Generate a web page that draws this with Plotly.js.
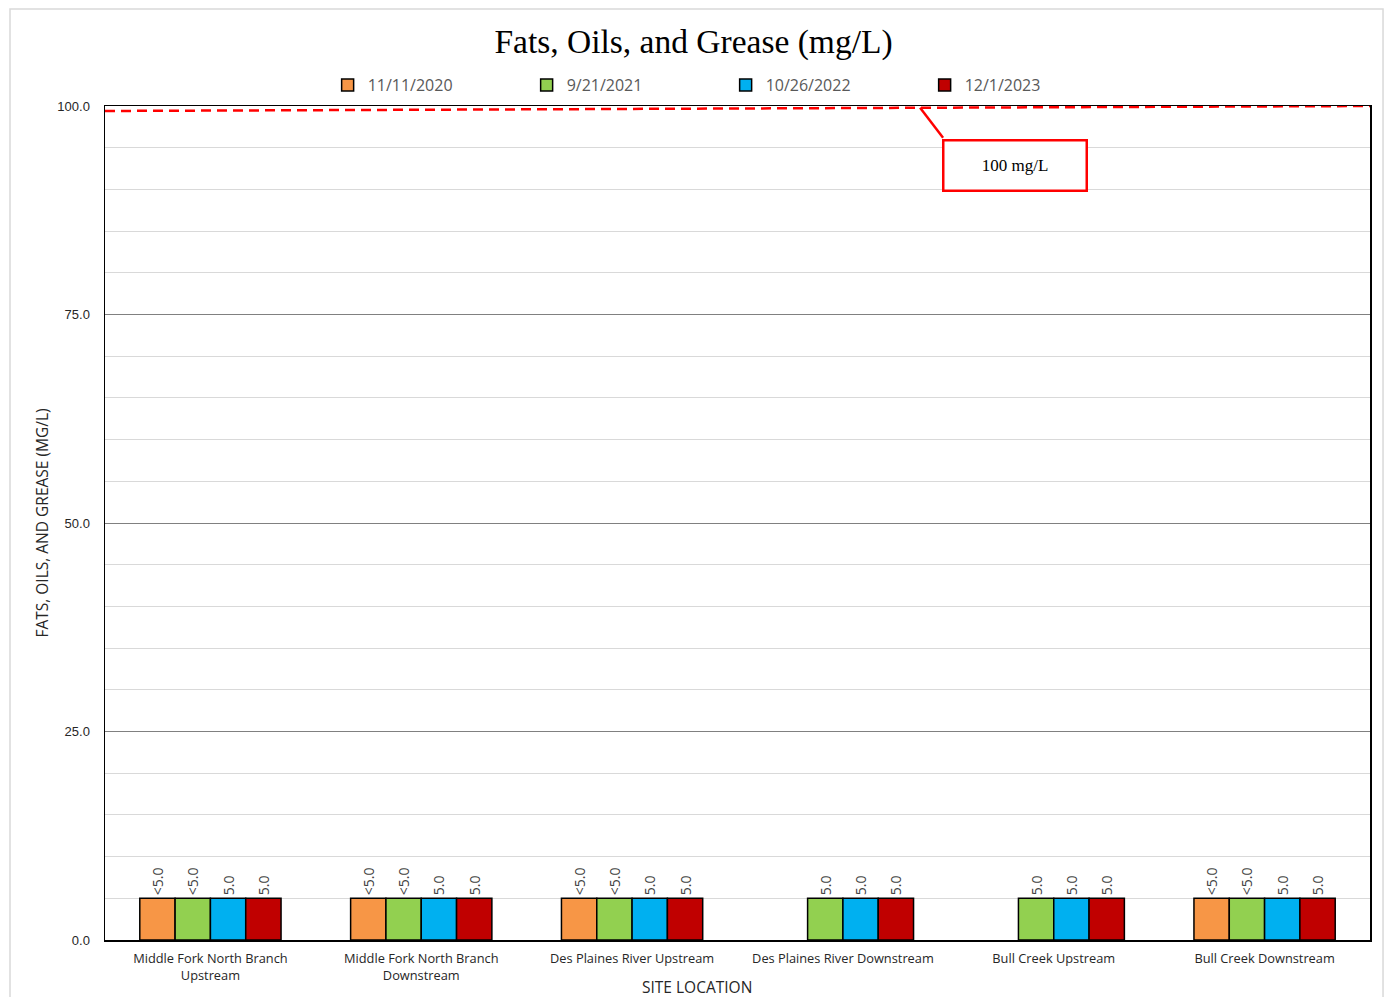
<!DOCTYPE html>
<html>
<head>
<meta charset="utf-8">
<script src="https://cdn.plot.ly/plotly-3.0.1.min.js"></script>
<style>html,body{margin:0;padding:0;background:#fff;}#chart{width:1387px;height:997px;}</style>
</head>
<body>
<div id="chart"></div>
<script>
var sites = ["Middle Fork North Branch<br>Upstream", "Middle Fork North Branch<br>Downstream", "Des Plaines River Upstream", "Des Plaines River Downstream", "Bull Creek Upstream", "Bull Creek Downstream"];
var seriesNames = ["11/11/2020", "9/21/2021", "10/26/2022", "12/1/2023"];
var v2020 = [5.0, 5.0, 5.0, null, null, 5.0];
var v2021 = [5.0, 5.0, 5.0, 5.0, 5.0, 5.0];
var v2022 = [5.0, 5.0, 5.0, 5.0, 5.0, 5.0];
var v2023 = [5.0, 5.0, 5.0, 5.0, 5.0, 5.0];
var l2020 = ["<5.0", "<5.0", "<5.0", "", "", "<5.0"];
var l2021 = ["<5.0", "<5.0", "<5.0", "5.0", "5.0", "<5.0"];
var l2022 = ["5.0", "5.0", "5.0", "5.0", "5.0", "5.0"];
var l2023 = ["5.0", "5.0", "5.0", "5.0", "5.0", "5.0"];
var limitY = [99.4, 100];
var limitLabel = "100 mg/L";
var yTicks = [0, 25, 50, 75, 100];
var yTickText = ["0.0", "25.0", "50.0", "75.0", "100.0"];

var colors = ["#F79646", "#92D050", "#00B0F0", "#C00000"];
var vals = [v2020, v2021, v2022, v2023];
var labs = [l2020, l2021, l2022, l2023];

var traces = vals.map(function (v, i) {
  return {
    type: "bar",
    name: seriesNames[i],
    x: sites,
    y: v,
    text: labs[i],
    textposition: "outside",
    textangle: -90,
    cliponaxis: false,
    textfont: {family: "Open Sans, Liberation Sans, sans-serif", size: 14, color: "#404040"},
    marker: {color: colors[i], line: {color: "#000000", width: 1.5}},
    hoverinfo: "skip"
  };
});

var layout = {
  width: 1387,
  height: 997,
  margin: {l: 105, r: 17, t: 106, b: 57},
  paper_bgcolor: "#ffffff",
  plot_bgcolor: "#ffffff",
  barmode: "group",
  bargap: 0.33,
  bargroupgap: 0,
  showlegend: true,
  title: {
    text: "Fats, Oils, and Grease (mg/L)",
    font: {family: "Liberation Serif, Times New Roman, serif", size: 33.5, color: "#000000"},
    x: 0.5, xanchor: "center", y: 0.959, yanchor: "middle"
  },
  legend: {
    orientation: "h",
    x: 0.176, xanchor: "left",
    y: 1.025, yanchor: "middle",
    entrywidth: 154, entrywidthmode: "pixels",
    itemwidth: 30,
    font: {family: "Open Sans, Liberation Sans, sans-serif", size: 16, color: "#595959"},
    bgcolor: "rgba(0,0,0,0)"
  },
  xaxis: {
    type: "category",
    showline: true, linecolor: "#000000", linewidth: 1.5, mirror: true,
    ticks: "", showgrid: false,
    ticklabelstandoff: 6,
    tickfont: {family: "Open Sans, Liberation Sans, sans-serif", size: 12.8, color: "#262626"},
    range: [-0.5, 5.5]
  },
  yaxis: {
    range: [0, 100],
    tickvals: yTicks, ticktext: yTickText,
    showline: true, linecolor: "#000000", linewidth: 1.5, mirror: true,
    showgrid: true, gridcolor: "#808080", gridwidth: 1,
    minor: {dtick: 5, showgrid: true, gridcolor: "#d9d9d9", gridwidth: 1, ticks: ""},
    zeroline: false,
    ticks: "", ticklabelstandoff: 11,
    tickfont: {family: "Liberation Sans, Arial, sans-serif", size: 13, color: "#262626"},
    title: {text: "FATS, OILS, AND GREASE (MG/L)", standoff: 5, font: {family: "Open Sans, Liberation Sans, sans-serif", size: 15.5, color: "#262626"}}
  },
  shapes: [
    {type: "line", xref: "paper", yref: "y", x0: 0, x1: 1, y0: limitY[0], y1: limitY[1],
     line: {color: "#FF0000", width: 2.5, dash: "10px,6px"}},
    {type: "line", xref: "x", yref: "y", x0: 3.366, y0: 99.8, x1: 3.475, y1: 96.2,
     line: {color: "#FF0000", width: 2.5}},
    {type: "rect", xref: "paper", yref: "paper", x0: -0.0751, x1: 1.0103, y0: -0.08, y1: 1.1163,
     line: {color: "#d9d9d9", width: 1.5}, layer: "below"}
  ],
  annotations: [
    {x: 3.817, y: 92.9, xref: "x", yref: "y", text: limitLabel, showarrow: false,
     width: 141, height: 48, bordercolor: "#FF0000", borderwidth: 2.5, borderpad: 0,
     bgcolor: "#ffffff",
     font: {family: "Liberation Serif, Times New Roman, serif", size: 17, color: "#000000"}},
    {x: 0.468, y: -0.056, xref: "paper", yref: "paper", xanchor: "center", yanchor: "middle",
     text: "SITE LOCATION", showarrow: false,
     font: {family: "Open Sans, Liberation Sans, sans-serif", size: 15.5, color: "#262626"}}
  ]
};

Plotly.newPlot("chart", traces, layout, {displayModeBar: false, staticPlot: true});
</script>
</body>
</html>
